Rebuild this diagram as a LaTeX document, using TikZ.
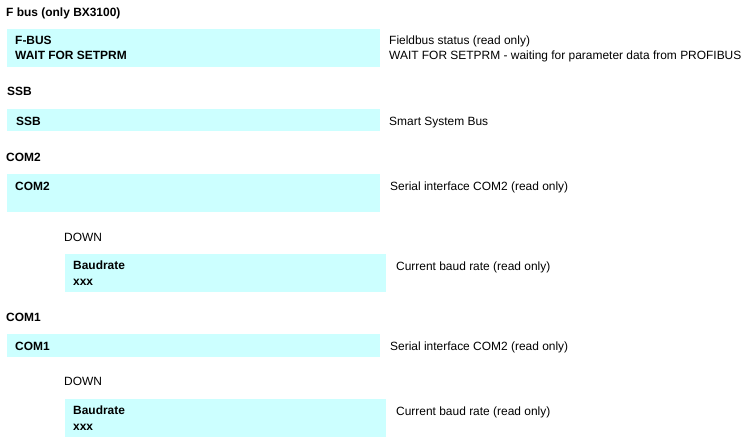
\documentclass[tikz,border=0pt]{standalone}
\usepackage{fontspec}
\setmainfont{Liberation Sans}
\definecolor{boxcyan}{RGB}{204,255,255}
\begin{document}
\begin{tikzpicture}[x=1pt,y=-1pt,
  txt/.style={anchor=base west,inner sep=0pt,font=\fontsize{11.95}{15.3}\selectfont},
  btxt/.style={txt,font=\fontsize{11.95}{15.3}\selectfont\bfseries},
  cyanbox/.style={fill=boxcyan,draw=none}]
\useasboundingbox (0,0) rectangle (745,444);
% boxes
\fill[cyanbox] (7,29) rectangle (380,67);
\fill[cyanbox] (7,109) rectangle (380,131);
\fill[cyanbox] (7,174) rectangle (380,212);
\fill[cyanbox] (65,254) rectangle (386,292);
\fill[cyanbox] (7,334) rectangle (380,357);
\fill[cyanbox] (65,399) rectangle (386,437);
% headers
\node[btxt] (h1) at (6,16.5) {F bus (only BX3100)};
\node[btxt] (h2) at (7,95.7) {SSB};
\node[btxt] (h3) at (6,161) {COM2};
\node[btxt] (h4) at (6,321) {COM1};
% box texts
\node[btxt] (b1a) at (15,45) {F-BUS};
\node[btxt] (b1b) at (15,60) {WAIT FOR SETPRM};
\node[btxt] (b2) at (16,125) {SSB};
\node[btxt] (b3) at (15,190) {COM2};
\node[btxt] (b4a) at (73,269.7) {Baudrate};
\node[btxt] (b4b) at (73,285) {xxx};
\node[btxt] (b5) at (15,350) {COM1};
\node[btxt] (b6a) at (73,414.7) {Baudrate};
\node[btxt] (b6b) at (73,430) {xxx};
% DOWN labels
\node[txt] (d1) at (64,241) {DOWN};
\node[txt] (d2) at (64,385) {DOWN};
% descriptions
\node[txt] (r1a) at (389,45) {Fieldbus status (read only)};
\node[txt] (r1b) at (389,60) {WAIT FOR SETPRM - waiting for parameter data from PROFIBUS};
\node[txt] (r2) at (389,125) {Smart System Bus};
\node[txt] (r3) at (390,190) {Serial interface COM2 (read only)};
\node[txt] (r4) at (396,270) {Current baud rate (read only)};
\node[txt] (r5) at (390,350) {Serial interface COM2 (read only)};
\node[txt] (r6) at (396,415) {Current baud rate (read only)};
\end{tikzpicture}
\end{document}
